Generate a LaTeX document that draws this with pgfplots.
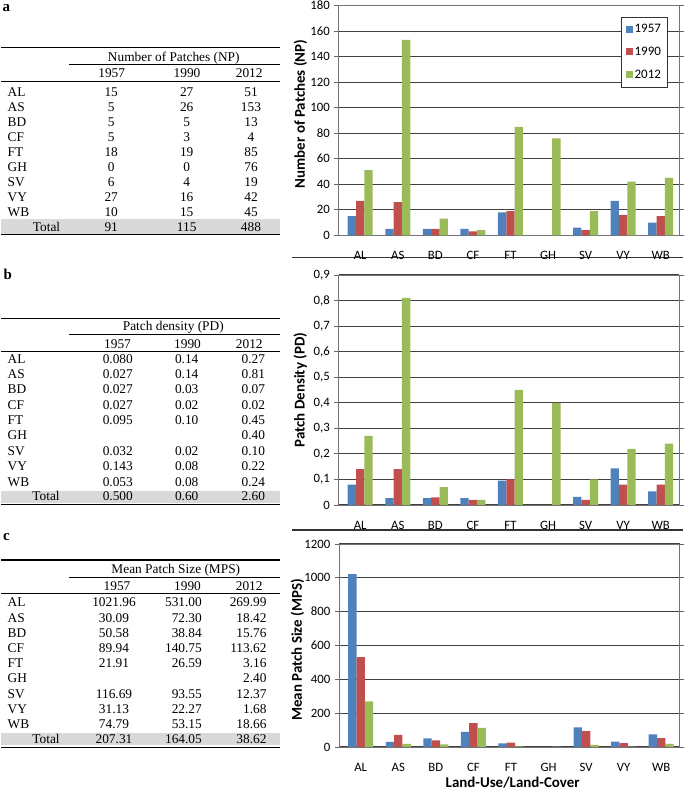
\documentclass[border=0pt]{standalone}
\usepackage{pgfplots}
\pgfplotsset{compat=1.18}
\usepackage{fontspec}
\setmainfont{Liberation Serif}
\newfontfamily\calibri{Carlito}

\definecolor{cBlue}{HTML}{4F81BD}
\definecolor{cRed}{HTML}{C0504D}
\definecolor{cGreen}{HTML}{9BBB59}
\definecolor{bandgray}{HTML}{D9D9D9}

\pgfplotsset{
 lulc/.style={
  scale only axis, width=340.5bp,
  ybar=0pt, bar width=8.33bp,
  xmin=-0.578, xmax=8.487,
  xtick={0,...,8}, xticklabels={AL,AS,BD,CF,FT,GH,SV,VY,WB},
  xtick style={draw=none},
  ymin=0,
  ymajorgrids, grid style={draw=black!75, line width=1bp},
  axis line style={draw=black!55, line width=0.9bp},
  tick align=outside, major tick length=4.5bp,
  ytick style={draw=black!60, line width=0.8bp},
  tick label style={font=\calibri\fontsize{12.8}{14}\selectfont},
  /pgf/number format/assume math mode=true,
  label style={font=\calibri\bfseries\fontsize{15}{17}\selectfont},
  xticklabel style={inner sep=0pt, anchor=north, yshift=-11.5bp},
  yticklabel style={inner sep=0pt, anchor=east, xshift=-4bp},
  every axis plot/.append style={draw=none},
 },
 sqleg/.style={legend image code/.code={\fill[##1] (0bp,-3.5bp) rectangle (7bp,3.5bp);}},
}

\newcommand\Trow[5]{%
 \node[anchor=base west] at (7.5bp,#1bp) {#2};
 \node[anchor=\aA] at (\xA bp,#1bp) {#3};
 \node[anchor=\aB] at (\xB bp,#1bp) {#4};
 \node[anchor=\aC] at (\xC bp,#1bp) {#5};}

\begin{document}
\begin{tikzpicture}[x=1bp,y=1bp]
\useasboundingbox (0,0) rectangle (685,790);

\begin{scope}[every node/.style={inner sep=0pt, font=\fontsize{13.4}{15}\selectfont}]
% panel letters
\node[anchor=base west, font=\fontsize{15}{17}\selectfont\bfseries] at (2.5,778.3) {a};
\node[anchor=base west, font=\fontsize{15}{17}\selectfont\bfseries] at (3.5,510) {b};
\node[anchor=base west, font=\fontsize{15}{17}\selectfont\bfseries] at (3,249) {c};

% ---------- table a
\fill[bandgray] (1,556) rectangle (279.5,571);
\draw[line width=1.4bp] (1,742.3) -- (279.5,742.3);
\draw[line width=1bp] (69,725.7) -- (279.5,725.7);
\draw[line width=1bp] (1,708.3) -- (279.5,708.3);
\draw[line width=1.4bp] (1,555.3) -- (279.5,555.3);
\node[anchor=base] at (173.8,728.7) {Number of Patches (NP)};
\node[anchor=base] at (111.7,712.2) {1957};
\node[anchor=base] at (187,712.2) {1990};
\node[anchor=base] at (249.2,712.2) {2012};
\def\xA{111.2}\def\xB{186.7}\def\xC{251}\def\aA{base}\def\aB{base}\def\aC{base}
\foreach \lab/\va/\vb/\vc [count=\i from 0] in {AL/15/27/51,AS/5/26/153,BD/5/5/13,CF/5/3/4,FT/18/19/85,GH/0/0/76,SV/6/4/19,VY/27/16/42,WB/10/15/45}{
  \pgfmathsetmacro\yy{693.4-15.04*\i}
  \Trow{\yy}{\lab}{\va}{\vb}{\vc}}
\node[anchor=base] at (46.5,558.3) {Total};
\node[anchor=\aA] at (\xA,558.3) {91};
\node[anchor=\aB] at (\xB,558.3) {115};
\node[anchor=\aC] at (\xC,558.3) {488};

% ---------- table b
\fill[bandgray] (1,287) rectangle (279.5,299);
\draw[line width=1.4bp] (1,471.7) -- (279.5,471.7);
\draw[line width=1bp] (69,455) -- (279.5,455);
\draw[line width=1bp] (1,438.3) -- (279.5,438.3);
\draw[line width=1.4bp] (1,285.5) -- (279.5,285.5);
\node[anchor=base] at (173.3,459) {Patch density (PD)};
\node[anchor=base] at (117.5,441) {1957};
\node[anchor=base] at (187.5,441) {1990};
\node[anchor=base] at (249.3,441) {2012};
\def\xA{117.8}\def\xB{186.7}\def\xC{253.3}\def\aA{base}\def\aB{base}\def\aC{base}
\foreach \lab/\va/\vb/\vc [count=\i from 0] in {AL/0.080/0.14/0.27,AS/0.027/0.14/0.81,BD/0.027/0.03/0.07,CF/0.027/0.02/0.02,FT/0.095/0.10/0.45,GH/{}/{}/0.40,SV/0.032/0.02/0.10,VY/0.143/0.08/0.22,WB/0.053/0.08/0.24}{
  \pgfmathsetmacro\yy{426.7-15.34*\i}
  \Trow{\yy}{\lab}{\va}{\vb}{\vc}}
\node[anchor=base] at (46,289.3) {Total};
\node[anchor=\aA] at (\xA,289.3) {0.500};
\node[anchor=\aB] at (\xB,289.3) {0.60};
\node[anchor=\aC] at (\xC,289.3) {2.60};

% ---------- table c
\fill[bandgray] (1,45) rectangle (279.5,56.7);
\draw[line width=1.4bp] (1,230) -- (279.5,230);
\draw[line width=1bp] (69,212.3) -- (279.5,212.3);
\draw[line width=1bp] (1,196.7) -- (279.5,196.7);
\draw[line width=1.4bp] (1,42.3) -- (279.5,42.3);
\node[anchor=base] at (175.8,216.3) {Mean Patch Size (MPS)};
\node[anchor=base] at (117,199.3) {1957};
\node[anchor=base] at (187.5,199.3) {1990};
\node[anchor=base] at (249.2,199.3) {2012};
\def\xA{114}\def\xB{202}\def\xC{266.7}\def\aA{base}\def\aB{base east}\def\aC{base east}
\foreach \lab/\va/\vb/\vc [count=\i from 0] in {AL/1021.96/531.00/269.99,AS/30.09/72.30/18.42,BD/50.58/38.84/15.76,CF/89.94/140.75/113.62,FT/21.91/26.59/3.16,GH/{}/{}/2.40,SV/116.69/93.55/12.37,VY/31.13/22.27/1.68,WB/74.79/53.15/18.66}{
  \pgfmathsetmacro\yy{183-15.2*\i}
  \Trow{\yy}{\lab}{\va}{\vb}{\vc}}
\node[anchor=base] at (46,46.7) {Total};
\node[anchor=\aA] at (\xA,46.7) {207.31};
\node[anchor=\aB] at (\xB,46.7) {164.05};
\node[anchor=\aC] at (\xC,46.7) {38.62};

% separators
\draw[line width=1.5bp, black!80] (292,532.5) -- (683,532.5);
\draw[line width=1.5bp, black!80] (292,260) -- (683,260);
\end{scope}

% ---------- chart a
\begin{axis}[lulc, at={(338.5bp,554.7bp)}, anchor=south west, height=229.8bp,
  ymax=180, ytick={0,20,...,180},
  ylabel={Number of Patches (NP)},
  ylabel style={at={(axis description cs:-0.112,0.528)}, anchor=center},
  legend style={at={(0.965,0.95)}, anchor=north east, draw=black!80, fill=white,
    font=\calibri\fontsize{13}{15}\selectfont, row sep=9bp, inner xsep=4bp, inner ysep=5bp,
    legend cell align=left},
  ]
\addplot[fill=cBlue, sqleg] coordinates {(0,15) (1,5) (2,5) (3,5) (4,18) (5,0) (6,6) (7,27) (8,10)};
\addplot[fill=cRed, sqleg] coordinates {(0,27) (1,26) (2,5) (3,3) (4,19) (5,0) (6,4) (7,16) (8,15)};
\addplot[fill=cGreen, sqleg] coordinates {(0,51) (1,153) (2,13) (3,4) (4,85) (5,76) (6,19) (7,42) (8,45)};
\legend{1957,1990,2012}
\end{axis}

% ---------- chart b
\begin{axis}[lulc, at={(338.5bp,285bp)}, anchor=south west, height=230bp,
  ymax=0.9, ytick={0,0.1,0.2,0.3,0.4,0.5,0.6,0.7,0.8,0.9},
  yticklabel style={/pgf/number format/fixed, /pgf/number format/precision=1, /pgf/number format/use comma},
  ylabel={Patch Density (PD)},
  ylabel style={at={(axis description cs:-0.112,0.5)}, anchor=center},
  ]
\addplot[fill=cBlue] coordinates {(0,0.080) (1,0.027) (2,0.027) (3,0.027) (4,0.095) (6,0.032) (7,0.143) (8,0.053)};
\addplot[fill=cRed] coordinates {(0,0.14) (1,0.14) (2,0.03) (3,0.02) (4,0.10) (6,0.02) (7,0.08) (8,0.08)};
\addplot[fill=cGreen] coordinates {(0,0.27) (1,0.81) (2,0.07) (3,0.02) (4,0.45) (5,0.40) (6,0.10) (7,0.22) (8,0.24)};
\end{axis}

% ---------- chart c
\begin{axis}[lulc, at={(339bp,43bp)}, anchor=south west, height=203bp,
  ymax=1200, ytick={0,200,...,1200},
  yticklabel style={/pgf/number format/1000 sep={}},
  ylabel={Mean Patch Size (MPS)},
  ylabel style={at={(axis description cs:-0.122,0.478)}, anchor=center},
  xlabel={Land-Use/Land-Cover},
  xlabel style={at={(axis description cs:0.51,-0.2)}, anchor=base},
  ]
\addplot[fill=cBlue] coordinates {(0,1021.96) (1,30.09) (2,50.58) (3,89.94) (4,21.91) (6,116.69) (7,31.13) (8,74.79)};
\addplot[fill=cRed] coordinates {(0,531.00) (1,72.30) (2,38.84) (3,140.75) (4,26.59) (6,93.55) (7,22.27) (8,53.15)};
\addplot[fill=cGreen] coordinates {(0,269.99) (1,18.42) (2,15.76) (3,113.62) (4,3.16) (5,2.40) (6,12.37) (7,1.68) (8,18.66)};
\end{axis}
\end{tikzpicture}
\end{document}
